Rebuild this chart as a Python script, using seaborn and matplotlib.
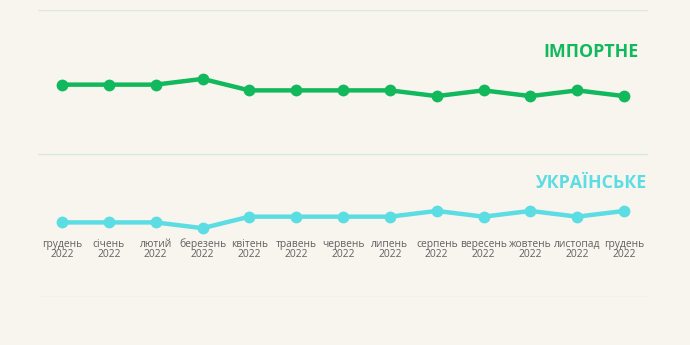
import matplotlib
matplotlib.use("Agg")
import matplotlib.pyplot as plt
import seaborn as sns
import pandas as pd

months = ["грудень", "січень", "лютий", "березень", "квітень", "травень", "червень",
          "липень", "серпень", "вересень", "жовтень", "листопад", "грудень"]
years = ["2022"] * 13
imported = [74, 74, 74, 76, 72, 72, 72, 72, 70, 72, 70, 72, 70]
ukrainian = [26, 26, 26, 24, 28, 28, 28, 28, 30, 28, 30, 28, 30]
series_names = ["ІМПОРТНЕ", "УКРАЇНСЬКЕ"]
colors = ["#12b85c", "#5cdde3"]

bg = "#f8f5ef"
sns.set_theme(style="white")
plt.rcParams["font.family"] = ["Open Sans", "DejaVu Sans"]

df = pd.DataFrame({
    "idx": list(range(len(months))) * 2,
    "value": imported + ukrainian,
    "series": [series_names[0]] * len(imported) + [series_names[1]] * len(ukrainian),
})

fig = plt.figure(figsize=(6.9, 3.45), dpi=100, facecolor=bg)
ax = fig.add_axes([0.0551, 0.139, 0.884, 0.832])
ax.set_facecolor(bg)

sns.lineplot(data=df, x="idx", y="value", hue="series", palette=colors,
             linewidth=3.2, marker="o", markersize=8.5, markeredgewidth=0,
             legend=False, ax=ax)

ax.set_xlim(-0.512, 12.51)
ax.set_ylim(0, 100)
ax.set_yticks([0, 50, 100])
ax.grid(axis="y", color="#d9e8e0", linewidth=1)
ax.set_xticks([])
ax.tick_params(left=False, labelleft=False)
ax.set_xlabel("")
ax.set_ylabel("")
for s in ax.spines.values():
    s.set_visible(False)

# month / year labels under the lower line
for i, (m, y) in enumerate(zip(months, years)):
    ax.text(i, 17.5, m, ha="center", va="baseline", fontsize=7.4,
            color="#606060")
    ax.text(i, 14.0, y, ha="center", va="baseline", fontsize=7.4,
            color="#606060")

# series titles
ax.text(12.3, 85.4, series_names[0], ha="right", va="center", fontsize=12.8,
        fontweight="bold", color=colors[0])
ax.text(12.49, 39.7, series_names[1], ha="right", va="center", fontsize=12.8,
        fontweight="bold", color=colors[1])

fig.savefig("out.png", dpi=100, facecolor=bg)
